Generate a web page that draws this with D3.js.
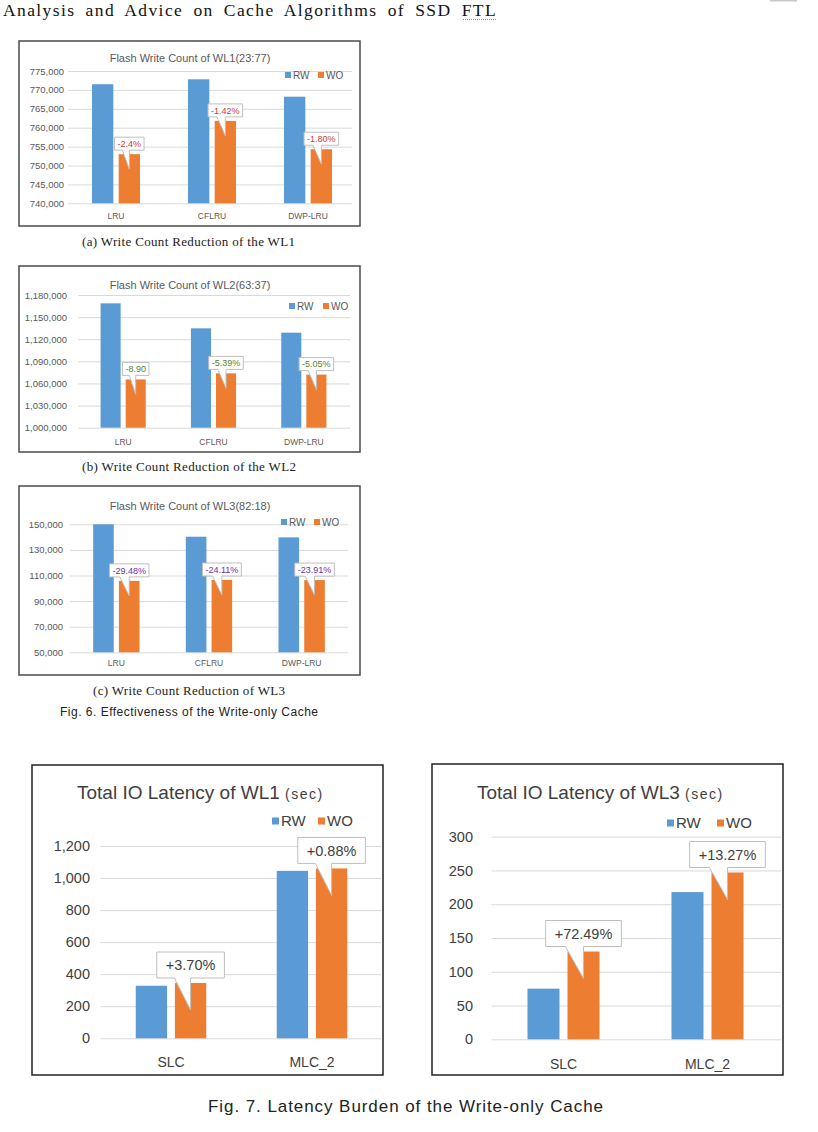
<!DOCTYPE html>
<html>
<head>
<meta charset="utf-8">
<script src="https://cdn.jsdelivr.net/npm/d3@7"></script>
<style>
  body { margin: 0; background: #fff; }
</style>
</head>
<body>
<script>
const seriesNames = ["RW", "WO"];
const colors = {RW: "#5b9bd5", WO: "#ed7d31"};

// Fig. 6 - flash write counts
const algoCats = ["LRU", "CFLRU", "DWP-LRU"];

const wl1RW = [771500, 772800, 768200];
const wl1WO = [753000, 761800, 754300];
const wl1Notes = ["-2.4%", "-1.42%", "-1.80%"];
const wl1Ticks = [740000, 745000, 750000, 755000, 760000, 765000, 770000, 775000];

const wl2RW = [1168700, 1134800, 1128900];
const wl2WO = [1065500, 1073700, 1072000];
const wl2Notes = ["-8.90", "-5.39%", "-5.05%"];
const wl2Ticks = [1000000, 1030000, 1060000, 1090000, 1120000, 1150000, 1180000];

const wl3RW = [150000, 140300, 139800];
const wl3WO = [105800, 106500, 106400];
const wl3Notes = ["-29.48%", "-24.11%", "-23.91%"];
const wl3Ticks = [50000, 70000, 90000, 110000, 130000, 150000];

// Fig. 7 - total IO latency
const cellCats = ["SLC", "MLC_2"];

const lat1RW = [328, 1045];
const lat1WO = [345, 1060];
const lat1Notes = ["+3.70%", "+0.88%"];
const lat1Ticks = [0, 200, 400, 600, 800, 1000, 1200];

const lat3RW = [75, 218];
const lat3WO = [130, 247];
const lat3Notes = ["+72.49%", "+13.27%"];
const lat3Ticks = [0, 50, 100, 150, 200, 250, 300];

const sans = "'Liberation Sans', Arial, sans-serif";
const serif = "'Liberation Serif', 'DejaVu Serif', serif";

const svg = d3.select("body").append("svg")
    .attr("width", 818)
    .attr("height", 1132);

function drawChart(c) {
    const g = svg.append("g");

    g.append("rect")
        .attr("x", c.frame[0])
        .attr("y", c.frame[1])
        .attr("width", c.frame[2] - c.frame[0])
        .attr("height", c.frame[3] - c.frame[1])
        .attr("fill", "#fff")
        .attr("stroke", c.frameColor)
        .attr("stroke-width", 1.5);

    const x = d3.scaleBand()
        .domain(c.cats)
        .range(c.xRange)
        .paddingInner(0.5)
        .paddingOuter(0.25);

    const xs = d3.scaleBand()
        .domain(seriesNames)
        .range([0, x.bandwidth()])
        .paddingInner(0.2);

    const y = d3.scaleLinear()
        .domain([c.ticks[0], c.ticks[c.ticks.length - 1]])
        .range(c.yRange);

    // gridlines
    g.append("g")
        .attr("transform", `translate(${c.xRange[0]},0)`)
        .call(d3.axisLeft(y)
            .tickValues(c.ticks)
            .tickSize(-(c.gridEnd - c.xRange[0]))
            .tickFormat(""))
        .call(a => a.select(".domain").remove())
        .selectAll("line")
        .attr("stroke", "#d9d9d9");

    const yAxis = g.append("g")
        .attr("transform", `translate(${c.labelX},0)`)
        .call(d3.axisLeft(y)
            .tickValues(c.ticks)
            .tickSize(0)
            .tickPadding(0)
            .tickFormat(d3.format(",")));
    yAxis.select(".domain").remove();
    yAxis.selectAll("text")
        .attr("font-family", sans)
        .attr("font-size", c.tickSize)
        .attr("fill", c.textColor);

    const xAxis = g.append("g")
        .attr("transform", `translate(0,${c.catY})`)
        .call(d3.axisBottom(x).tickSize(0).tickPadding(0));
    xAxis.select(".domain").remove();
    xAxis.selectAll("text")
        .attr("dy", 0)
        .attr("y", 0)
        .attr("font-family", sans)
        .attr("font-size", c.catSize)
        .attr("fill", c.textColor);

    const rows = c.cats.map((k, i) => ({cat: k, RW: c.rw[i], WO: c.wo[i], note: c.notes[i]}));

    const groups = g.selectAll()
        .data(rows)
        .enter()
        .append("g")
        .attr("transform", d => `translate(${x(d.cat)},0)`);

    groups.selectAll("rect")
        .data(d => seriesNames.map(s => ({s: s, v: d[s]})))
        .enter()
        .append("rect")
        .attr("x", d => xs(d.s))
        .attr("y", d => y(d.v))
        .attr("width", xs.bandwidth())
        .attr("height", d => y(c.ticks[0]) - y(d.v))
        .attr("fill", d => colors[d.s]);

    // callout labels over the WO bars
    groups.each(function (d) {
        const cx = xs("WO") + xs.bandwidth() / 2;
        const top = y(d.WO);
        const t = d3.select(this).append("text")
            .attr("font-family", sans)
            .attr("font-size", c.noteSize)
            .attr("fill", c.noteColor)
            .attr("text-anchor", "middle")
            .text(d.note);
        const tw = t.node().getComputedTextLength();
        const bw = tw + 2 * c.notePad;
        const bh = c.noteH;
        const bx = cx - bw / 2;
        const by = top - c.noteGap - bh;
        const tipY = top + c.tipDepth;
        d3.select(this).insert("path", "text")
            .attr("d", `M${bx},${by}H${bx + bw}V${by + bh}H${bx + bw * 0.5}L${cx},${tipY}L${bx + bw * 0.26},${by + bh}H${bx}Z`)
            .attr("fill", "#fff")
            .attr("stroke", "#bfbfbf")
            .attr("stroke-width", 1);
        t.attr("x", cx).attr("y", by + bh / 2 + c.noteSize * 0.36);
    });

    // title
    const title = g.append("text")
        .attr("x", c.titleX)
        .attr("y", c.titleY)
        .attr("text-anchor", c.titleAnchor)
        .attr("font-family", sans)
        .attr("font-size", c.titleSize)
        .attr("fill", c.titleColor)
        .text(c.title);
    if (c.titleSuffix) {
        title.append("tspan")
            .attr("font-size", c.suffixSize)
            .attr("letter-spacing", 1.5)
            .text(c.titleSuffix);
    }

    // legend
    seriesNames.forEach((s, i) => {
        g.append("rect")
            .attr("x", c.legendX[i])
            .attr("y", c.legendY - c.legendBox / 2)
            .attr("width", c.legendBox)
            .attr("height", c.legendBox)
            .attr("fill", colors[s]);
        g.append("text")
            .attr("x", c.legendX[i] + c.legendBox + 2)
            .attr("y", c.legendY + c.legendSize * 0.36)
            .attr("font-family", sans)
            .attr("font-size", c.legendSize)
            .attr("fill", c.textColor)
            .text(s);
    });
}

const small = {
    cats: algoCats,
    frameColor: "#4a4a4a",
    textColor: "#595959",
    titleColor: "#595959",
    tickSize: 9.5,
    catSize: 8.5,
    titleSize: 11,
    titleX: 190,
    titleAnchor: "middle",
    noteSize: 9,
    notePad: 3,
    noteH: 13,
    noteGap: 4,
    tipDepth: 15,
    legendBox: 6,
    legendSize: 10
};

drawChart(Object.assign({}, small, {
    rw: wl1RW, wo: wl1WO, notes: wl1Notes, ticks: wl1Ticks,
    frame: [19, 41, 360, 226], xRange: [68, 356], gridEnd: 352, yRange: [203.3, 71],
    labelX: 64, catY: 219, title: "Flash Write Count of WL1(23:77)", titleY: 62,
    noteColor: "#c8393f", legendX: [285, 318], legendY: 75
}));

drawChart(Object.assign({}, small, {
    rw: wl2RW, wo: wl2WO, notes: wl2Notes, ticks: wl2Ticks,
    frame: [19, 266, 360, 452], xRange: [78, 349], gridEnd: 350, yRange: [427.7, 295],
    labelX: 67, catY: 445, title: "Flash Write Count of WL2(63:37)", titleY: 289,
    noteColor: "#548235", legendX: [289, 323], legendY: 306
}));

drawChart(Object.assign({}, small, {
    rw: wl3RW, wo: wl3WO, notes: wl3Notes, ticks: wl3Ticks,
    frame: [19, 486, 360, 675], xRange: [70, 348], gridEnd: 348, yRange: [652.3, 524.3],
    labelX: 63, catY: 666, title: "Flash Write Count of WL3(82:18)", titleY: 510,
    noteColor: "#7030a0", legendX: [281, 314], legendY: 522
}));

const large = {
    cats: cellCats,
    frameColor: "#222",
    textColor: "#404040",
    titleColor: "#404040",
    tickSize: 14.5,
    catSize: 14,
    titleSize: 19,
    suffixSize: 14,
    titleAnchor: "start",
    noteColor: "#404040",
    noteSize: 14.5,
    notePad: 9,
    noteH: 26,
    noteGap: 5,
    tipDepth: 27,
    legendBox: 7,
    legendSize: 15
};

drawChart(Object.assign({}, large, {
    rw: lat1RW, wo: lat1WO, notes: lat1Notes, ticks: lat1Ticks,
    frame: [32, 765, 383, 1075], xRange: [100.5, 382.5], gridEnd: 381, yRange: [1038.3, 846],
    labelX: 90, catY: 1067, title: "Total IO Latency of WL1 ", titleSuffix: "(sec)",
    titleX: 77, titleY: 799, legendX: [272, 318], legendY: 821
}));

drawChart(Object.assign({}, large, {
    rw: lat3RW, wo: lat3WO, notes: lat3Notes, ticks: lat3Ticks,
    frame: [432, 764, 783, 1075], xRange: [491.5, 779.5], gridEnd: 781, yRange: [1039.3, 836.7],
    labelX: 473, catY: 1069, title: "Total IO Latency of WL3 ", titleSuffix: "(sec)",
    titleX: 477, titleY: 799, legendX: [667, 717], legendY: 823
}));

// page header: wide word gaps, fitted to the original line length
const header = svg.append("text")
    .attr("x", 3)
    .attr("y", 16)
    .attr("font-family", serif)
    .attr("font-size", 17.5)
    .attr("letter-spacing", 1.4)
    .attr("fill", "#111")
    .text("Analysis and Advice on Cache Algorithms of SSD FTL");
const natural = header.node().getComputedTextLength();
header.attr("word-spacing", Math.max(0, (494 - natural) / 8));

svg.append("line")
    .attr("x1", 463).attr("x2", 497)
    .attr("y1", 19.5).attr("y2", 19.5)
    .attr("stroke", "#e0802a")
    .attr("stroke-dasharray", "1,1");

svg.append("line")
    .attr("x1", 770).attr("x2", 797)
    .attr("y1", 0.5).attr("y2", 0.5)
    .attr("stroke", "#c8c8c8")
    .attr("stroke-width", 2);

const captions = [
    {t: "(a) Write Count Reduction of the WL1", x: 82, y: 246, w: 213, size: 13, font: serif},
    {t: "(b) Write Count Reduction of the WL2", x: 82, y: 471, w: 214, size: 13, font: serif},
    {t: "(c) Write Count Reduction of WL3", x: 93, y: 695, w: 192, size: 13, font: serif},
    {t: "Fig. 6. Effectiveness of the Write-only Cache", x: 60, y: 716, w: 258, size: 12, font: sans},
    {t: "Fig. 7. Latency Burden of the Write-only Cache", x: 208, y: 1112, w: 395, size: 17, font: sans}
];

svg.selectAll(".caption")
    .data(captions)
    .enter()
    .append("text")
    .attr("class", "caption")
    .attr("x", d => d.x)
    .attr("y", d => d.y)
    .attr("font-family", d => d.font)
    .attr("font-size", d => d.size)
    .attr("fill", "#222")
    .attr("textLength", d => d.w)
    .attr("lengthAdjust", "spacing")
    .text(d => d.t);
</script>
</body>
</html>
